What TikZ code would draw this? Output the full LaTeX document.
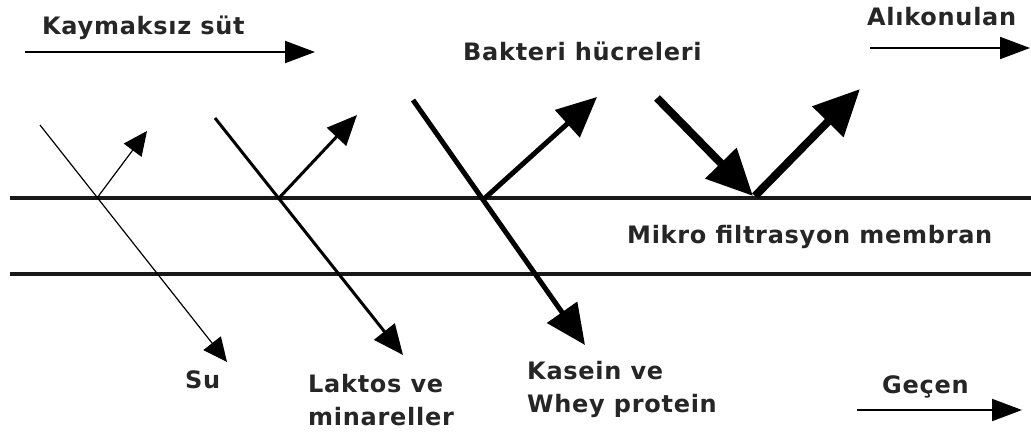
\documentclass[tikz,border=0pt]{standalone}
\usepackage{fontspec}
\setmainfont{DejaVu Sans}[LetterSpace=3]
\usetikzlibrary{arrows.meta}
\tikzset{
  lbl/.style={font=\bfseries\fontsize{24}{33}\selectfont, inner sep=0pt, text=black!85, align=left},
  membrane/.style={line width=4pt, black!90},
  flowarrow/.style={line width=2pt, -{Triangle[length=30pt,width=22pt]}},
  thinray/.style={line width=1.2pt, -{Triangle[length=24pt,width=22pt]}},
  medray/.style={line width=3pt, -{Triangle[length=30pt,width=26pt]}},
  thickray/.style={line width=5pt, -{Triangle[length=40pt,width=36pt]}},
  heavyray/.style={line width=8pt, -{Triangle[length=46pt,width=42pt]}}
}
\begin{document}
\begin{tikzpicture}[x=1pt,y=-1pt]
\useasboundingbox (0,0) rectangle (1031,434);
% membrane
\coordinate (m1a) at (10,198); \coordinate (m1b) at (1031,198);
\coordinate (m2a) at (10,274); \coordinate (m2b) at (1031,274);
\draw[membrane] (m1a) -- (m1b);
\draw[membrane] (m2a) -- (m2b);
% labels
\node[lbl, anchor=base west] (kay) at (42,34) {Kaymaksız süt};
\node[lbl, anchor=base west] (ali) at (867,25) {Alıkonulan};
\node[lbl, anchor=base west] (bak) at (463,60) {Bakteri hücreleri};
\node[lbl, anchor=base west] (mik) at (627,243) {Mikro filtrasyon membran};
\node[lbl, anchor=base west] (su) at (185,388) {Su};
\node[lbl, anchor=base west] (lak) at (308,425) {Laktos ve\\minareller};
\node[lbl, anchor=base west] (kas) at (527,412) {Kasein ve\\Whey protein};
\node[lbl, anchor=base west] (gec) at (882,393) {Geçen};
% horizontal flow arrows
\coordinate (ka) at (25,52); \coordinate (kb) at (315,52);
\coordinate (aa) at (870,48); \coordinate (ab) at (1030,48);
\coordinate (ga) at (857,410); \coordinate (gb) at (1022,410);
\draw[flowarrow] (ka) -- (kb);
\draw[flowarrow] (aa) -- (ab);
\draw[flowarrow] (ga) -- (gb);
% Su
\coordinate (s0) at (40,125); \coordinate (s1) at (227,362);
\coordinate (sx) at (97,198); \coordinate (s2) at (147,131);
\draw[thinray] (s0) -- (s1);
\draw[thinray] (sx) -- (s2);
% Laktos
\coordinate (l0) at (215,118); \coordinate (l1) at (403,355);
\coordinate (lx) at (279,198); \coordinate (l2) at (357,115);
\draw[medray] (l0) -- (l1);
\draw[medray] (lx) -- (l2);
% Kasein
\coordinate (c0) at (413,100); \coordinate (c1) at (585,345);
\coordinate (cx) at (485,198); \coordinate (c2) at (597,97);
\draw[thickray] (c0) -- (c1);
\draw[thickray] (cx) -- (c2);
% Bakteri
\coordinate (b0) at (657,98); \coordinate (b1) at (753,196);
\coordinate (bx) at (755,196); \coordinate (b2) at (860,89);
\draw[heavyray] (b0) -- (b1);
\draw[heavyray] (bx) -- (b2);
\end{tikzpicture}
\end{document}
